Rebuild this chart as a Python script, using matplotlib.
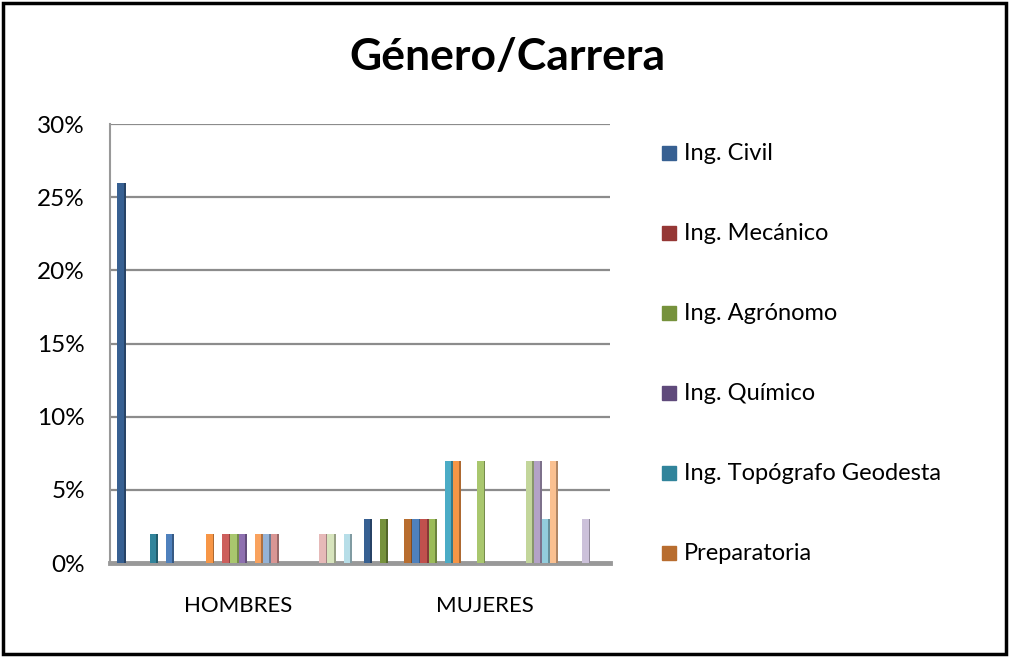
import numpy as np
import matplotlib.pyplot as plt
from matplotlib.patches import Rectangle
from matplotlib.colors import to_rgb

plt.rcParams['font.family'] = ['Lato', 'DejaVu Sans']

categorias = ['HOMBRES', 'MUJERES']
leyenda = ['Ing. Civil', 'Ing. Mecánico', 'Ing. Agrónomo', 'Ing. Químico',
           'Ing. Topógrafo Geodesta', 'Preparatoria']

# 30 series (Excel palette order), values in % per category
colores = ['#376092', '#953735', '#76923C', '#5F4A7B', '#31849B', '#B86D2F',
           '#4F81BD', '#C0504D', '#9BBB59', '#8064A2', '#4BACC6', '#F79646',
           '#7295D2', '#CD5F5C', '#A9C76E', '#8E70B0', '#6FBDD1', '#F9A25E',
           '#95B3D7', '#D99694', '#C3D69B', '#B3A2C7', '#93CDDD', '#FAC090',
           '#B9CDE5', '#E6B9B8', '#D7E4BD', '#CCC1DA', '#B7DEE8', '#FCD5B5']
hombres = [26, 0, 0, 0, 2, 0, 2, 0, 0, 0, 0, 2, 0, 2, 2, 2, 0, 2, 2, 2,
           0, 0, 0, 0, 0, 2, 2, 0, 2, 0]
mujeres = [3, 0, 3, 0, 0, 3, 3, 3, 3, 0, 7, 7, 0, 0, 7, 0, 0, 0, 0, 0,
           7, 7, 3, 7, 0, 0, 0, 3, 0, 0]
yticks = [0, 5, 10, 15, 20, 25, 30]


def oscuro(c, f=0.7):
    r, g, b = to_rgb(c)
    return (r * f, g * f, b * f)


fig = plt.figure(figsize=(10.09, 6.57), dpi=100)
ax = fig.add_axes([0.109, 0.143, 0.496, 0.668])

paso = 30.5
valores = [hombres, mujeres]
for c, vals in enumerate(valores):
    for i, v in enumerate(vals):
        x = c * paso + i
        ax.bar(x, v, width=0.8, color=colores[i], align='edge', zorder=3)
        ax.bar(x + 0.8, v, width=0.22, color=oscuro(colores[i]), align='edge', zorder=3)

ax.set_ylim(0, 30)
ax.set_xlim(-0.9, 61)
ax.set_yticks(yticks)
ax.set_yticklabels([f'{t}%' for t in yticks], fontsize=17.5)
ax.set_xticks([c * paso + 15 for c in range(len(categorias))])
ax.set_xticklabels(categorias, fontsize=16)
ax.tick_params(axis='y', length=0, pad=18)
ax.tick_params(axis='x', length=0, pad=24)
ax.grid(axis='y', color='#8C8C8C', lw=1.6, zorder=1)
for s in ['top', 'right']:
    ax.spines[s].set_visible(False)
ax.spines['left'].set_color('#999999')
ax.spines['left'].set_linewidth(1.5)
ax.spines['bottom'].set_color('#999999')
ax.spines['bottom'].set_linewidth(3.5)

fig.text(0.503, 0.913, 'Género/Carrera', ha='center', va='center',
         fontsize=32, fontweight='bold')

# legend (Excel shows only the first six entries)
for k, nombre in enumerate(leyenda):
    yc = 1 - (153 + 80 * k) / 657
    fig.add_artist(Rectangle((662 / 1009, yc - 7 / 657), 14 / 1009, 14 / 657,
                             transform=fig.transFigure, color=colores[k]))
    fig.text(684 / 1009, yc, nombre, ha='left', va='center', fontsize=17)

fig.add_artist(Rectangle((0.003, 0.004), 0.994, 0.992, transform=fig.transFigure,
                         fill=False, edgecolor='black', lw=2.5))

fig.savefig('out.png', dpi=100)
